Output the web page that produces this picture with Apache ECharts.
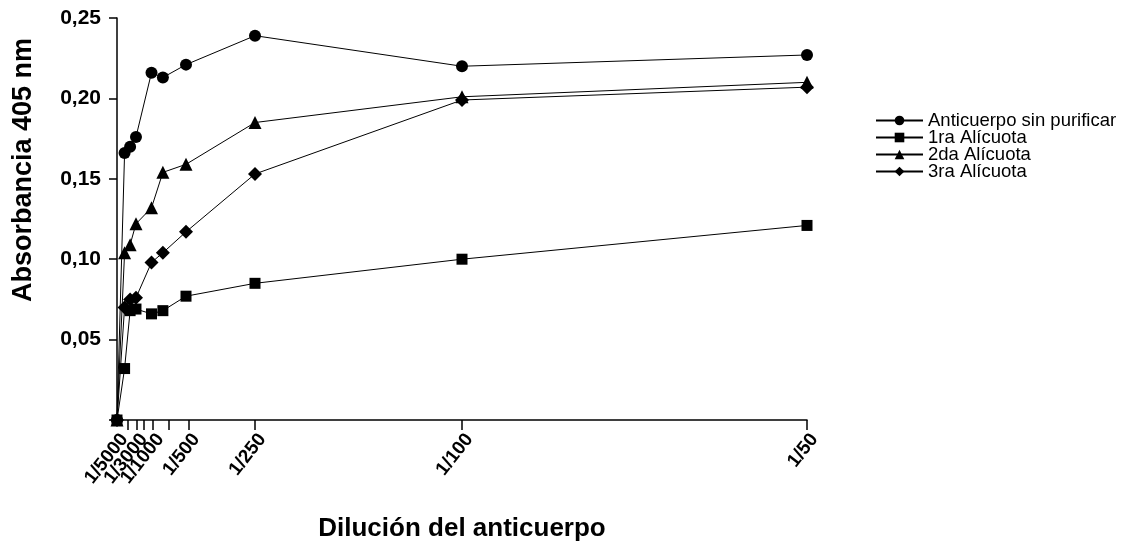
<!DOCTYPE html>
<html>
<head>
<meta charset="utf-8">
<script src="https://cdn.jsdelivr.net/npm/echarts@6/dist/echarts.min.js"></script>
<style>
html,body{margin:0;padding:0;background:#fff;}
#chart{width:1122px;height:545px;}
</style>
</head>
<body>
<div id="chart"></div>
<script>
// x values: concentration of antibody (1/dilution, in thousandths)
const xValues = [0, 0.22, 0.38, 0.55, 1.0, 1.33, 2.0, 4.0, 10, 20];
const sinPurificar = [0, 0.166, 0.170, 0.176, 0.216, 0.213, 0.221, 0.239, 0.220, 0.227];
const alicuota1 = [0, 0.032, 0.068, 0.069, 0.066, 0.068, 0.077, 0.085, 0.100, 0.121];
const alicuota2 = [0, 0.104, 0.109, 0.122, 0.132, 0.154, 0.159, 0.185, 0.201, 0.210];
const alicuota3 = [0, 0.070, 0.075, 0.076, 0.098, 0.104, 0.117, 0.153, 0.199, 0.207];

const seriesNames = ['Anticuerpo sin purificar', '1ra Alícuota', '2da Alícuota', '3ra Alícuota'];
const xTickValues = [0.30, 0.56, 0.77, 1.04, 1.5, 2.08, 4, 10, 20];
// labels split over two axes so that overlapping labels are all drawn
const xLabelValuesA = [0, 1.04, 2.08, 4, 10, 20];
const xLabelTextsA = ['1/5000', '1/1000', '1/500', '1/250', '1/100', '1/50'];
const xLabelValuesB = [0.56];
const xLabelTextsB = ['1/3000'];

const FONT = '"Liberation Sans", Arial, sans-serif';
const pair = (ys) => xValues.map((x, i) => [x, ys[i]]);

const chart = echarts.init(document.getElementById('chart'), null, {renderer: 'canvas'});
const mk = (name, ys, symbol, size) => ({
  name: name,
  type: 'line',
  data: pair(ys),
  symbol: symbol,
  symbolSize: size,
  clip: false,
  xAxisIndex: 0,
  lineStyle: {color: '#000', width: 1},
  itemStyle: {color: '#000'},
  emphasis: {disabled: true},
  animation: false
});

const labelStyle = (vals, texts) => ({
  customValues: vals,
  rotate: 52,
  margin: 10,
  verticalAlign: 'top',
  showMinLabel: true,
  showMaxLabel: true,
  hideOverlap: false,
  fontFamily: FONT, fontSize: 19, fontWeight: 'bold', color: '#000',
  formatter: (v) => {
    const i = vals.findIndex(t => Math.abs(t - v) < 1e-6);
    return i >= 0 ? texts[i] : '';
  }
});

chart.setOption({
  backgroundColor: '#fff',
  animation: false,
  grid: {left: 117, top: 18, right: 315, bottom: 125, containLabel: false, outerBoundsMode: 'none'},
  legend: {
    orient: 'vertical',
    left: 870,
    top: 106,
    itemWidth: 47,
    itemHeight: 12,
    itemGap: -2,
    textStyle: {fontFamily: FONT, fontSize: 18.5, color: '#000', lineHeight: 16},
    data: seriesNames
  },
  xAxis: [{
    type: 'value',
    min: 0,
    max: 20,
    name: 'Dilución del anticuerpo',
    nameLocation: 'middle',
    nameGap: 96,
    nameTextStyle: {fontFamily: FONT, fontSize: 26, fontWeight: 'bold', color: '#000'},
    splitLine: {show: false},
    axisLine: {show: true, onZero: false, lineStyle: {color: '#000', width: 1.5}},
    axisTick: {show: true, length: 10, lineStyle: {color: '#000', width: 1.5}, customValues: xTickValues},
    axisLabel: labelStyle(xLabelValuesA, xLabelTextsA)
  }, {
    type: 'value',
    min: 0,
    max: 20,
    position: 'bottom',
    offset: 0,
    splitLine: {show: false},
    axisLine: {show: false},
    axisTick: {show: false},
    axisLabel: labelStyle(xLabelValuesB, xLabelTextsB)
  }],
  yAxis: {
    type: 'value',
    min: 0,
    max: 0.25,
    interval: 0.05,
    name: 'Absorbancia 405 nm',
    nameLocation: 'middle',
    nameGap: 80,
    nameTextStyle: {fontFamily: FONT, fontSize: 27, fontWeight: 'bold', color: '#000', padding: [0, 0, 0, 98]},
    splitLine: {show: false},
    axisLine: {show: true, onZero: false, lineStyle: {color: '#000', width: 1.5}},
    axisTick: {show: true, length: 8, lineStyle: {color: '#000', width: 1.5}},
    axisLabel: {
      margin: 16,
      fontFamily: FONT, fontSize: 21, fontWeight: 'bold', color: '#000',
      formatter: (v) => v === 0 ? '' : v.toFixed(2).replace('.', ',')
    }
  },
  series: [
    mk(seriesNames[0], sinPurificar, 'circle', 12),
    mk(seriesNames[1], alicuota1, 'rect', 11),
    mk(seriesNames[2], alicuota2, 'triangle', 13),
    mk(seriesNames[3], alicuota3, 'diamond', 14)
  ]
});
</script>
</body>
</html>
